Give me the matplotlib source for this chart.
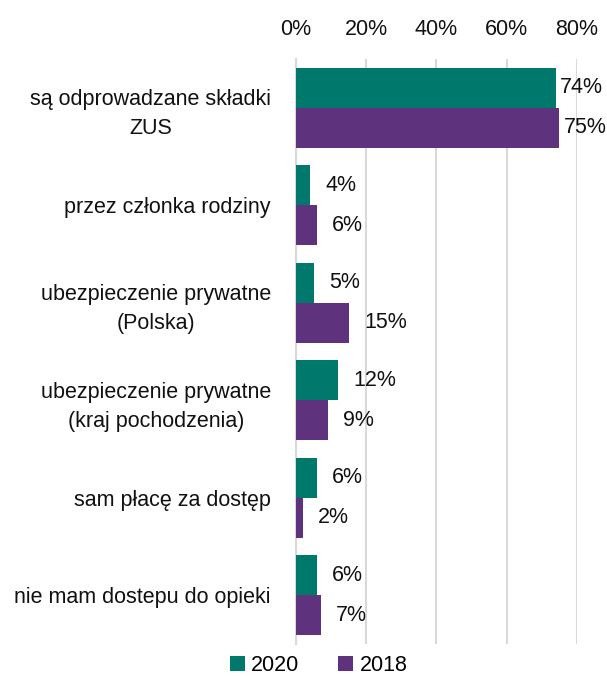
import matplotlib
matplotlib.use('Agg')
import matplotlib.pyplot as plt
import numpy as np

plt.rcParams['font.family'] = ['Liberation Sans Narrow', 'Liberation Sans', 'DejaVu Sans']

# Dane
categories = [
    'są odprowadzane składki\nZUS',
    'przez członka rodziny',
    'ubezpieczenie prywatne\n(Polska)',
    'ubezpieczenie prywatne\n(kraj pochodzenia)',
    'sam płacę za dostęp',
    'nie mam dostepu do opieki',
]
values_2020 = [74, 4, 5, 12, 6, 6]
values_2018 = [75, 6, 15, 9, 2, 7]
x_ticks = [0, 20, 40, 60, 80]

color_2020 = '#00786C'
color_2018 = '#5E327C'
fs = 15.5

fig = plt.figure(figsize=(6.07, 6.76), dpi=100)
ax = fig.add_axes([0.4876, 0.0473, 0.463, 0.8654])

y = np.arange(len(categories))
h = 0.41
bars20 = ax.barh(y - h / 2, values_2020, height=h, color=color_2020, label='2020', zorder=3)
bars18 = ax.barh(y + h / 2, values_2018, height=h, color=color_2018, label='2018', zorder=3)

for bars, vals in ((bars20, values_2020), (bars18, values_2018)):
    for b, v in zip(bars, vals):
        # long bars: labels pulled in so they stay inside the picture
        off = 3 if v > 70 else 11
        ax.annotate(f'{v}%', (b.get_width(), b.get_y() + b.get_height() / 2),
                    xytext=(off, 0), textcoords='offset points',
                    va='center', ha='left', fontsize=fs, color='#111111')

ax.set_xlim(0, 80)
ax.set_ylim(len(categories) - 0.5, -0.5)
ax.set_xticks(x_ticks)
ax.set_xticklabels([f'{t}%' for t in x_ticks])
ax.xaxis.tick_top()
ax.tick_params(axis='x', length=0, pad=14, labelsize=fs, colors='#111111')
ax.set_yticks(y)
ax.set_yticklabels(categories, multialignment='center', linespacing=1.5)
ax.tick_params(axis='y', length=0, pad=18, labelsize=fs, colors='#111111')

ax.grid(axis='x', color='#d9d9d9', linewidth=1.5, zorder=0)
ax.grid(axis='y', visible=False)
for side in ['top', 'right', 'bottom']:
    ax.spines[side].set_visible(False)
ax.spines['left'].set_color('#d9d9d9')
ax.spines['left'].set_linewidth(1.5)

fig.legend(handles=[bars20, bars18], labels=['2020', '2018'], loc='center',
           bbox_to_anchor=(0.525, 0.016), ncol=2, frameon=False, fontsize=fs,
           handlelength=0.7, handleheight=0.7, handletextpad=0.3, columnspacing=1.8)

fig.savefig('out.png', dpi=100)
